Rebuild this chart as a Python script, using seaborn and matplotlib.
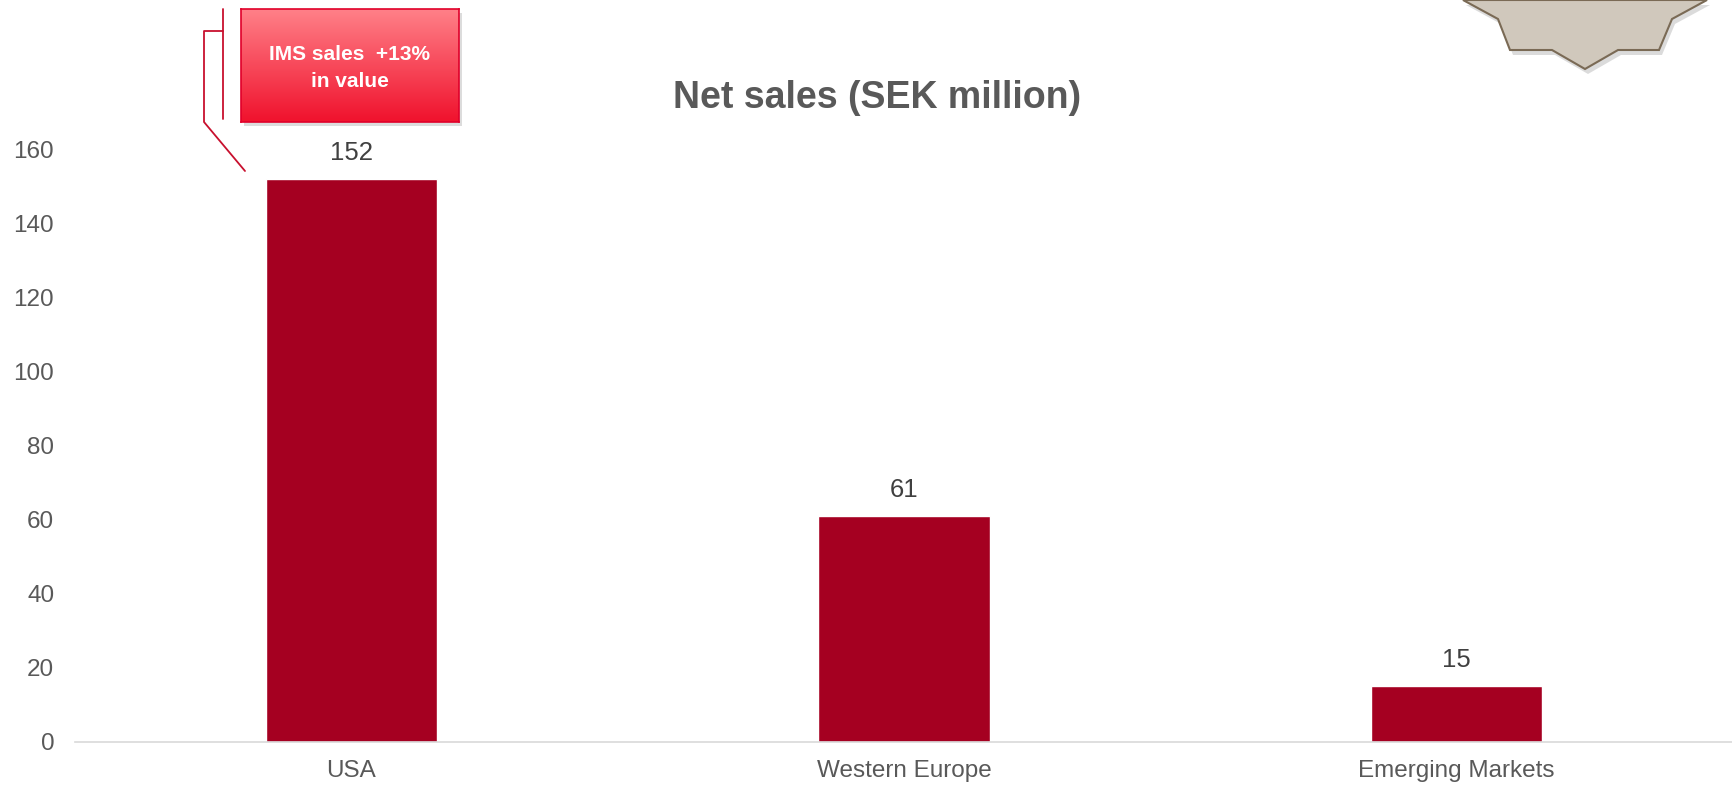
import numpy as np
import pandas as pd
import matplotlib
matplotlib.use("Agg")
import matplotlib.pyplot as plt
from matplotlib.patches import Polygon, Rectangle
from matplotlib.lines import Line2D
import seaborn as sns

# Net sales by region
regions = ["USA", "Western Europe", "Emerging Markets"]
net_sales = [152, 61, 15]
y_ticks = [0, 20, 40, 60, 80, 100, 120, 140, 160]
title = "Net sales (SEK million)"
callout_text = "IMS sales  +13%\nin value"

W, H = 1733, 787
sns.set_theme(style="white")
plt.rcParams["font.family"] = ["Liberation Sans", "DejaVu Sans"]

fig = plt.figure(figsize=(W / 100, H / 100), dpi=100)
fig.patch.set_facecolor("white")


def fx(px):
    return px / W


def fy(py):
    return 1 - py / H


ax = fig.add_axes([fx(75), fy(741.6), 1 - fx(75), fy(149.2) - fy(741.6)])
df = pd.DataFrame({"region": regions, "sales": net_sales})
sns.barplot(data=df, x="region", y="sales", color="#a50021", saturation=1,
            width=0.31, ax=ax)
ax.set_xlim(-0.5, 2.5)
ax.set_ylim(0, 160)
ax.set_yticks(y_ticks)
ax.set_xlabel("")
ax.set_ylabel("")
for s in ["top", "right", "left"]:
    ax.spines[s].set_visible(False)
ax.spines["bottom"].set_color("#d9d9d9")
ax.spines["bottom"].set_linewidth(1.2)
ax.tick_params(axis="both", length=0, labelsize=17.5, colors="#595959")
ax.tick_params(axis="x", pad=13)
ax.tick_params(axis="y", pad=15)
for c in ax.containers:
    ax.bar_label(c, labels=[str(v) for v in net_sales], padding=10,
                 fontsize=18.5, color="#404040")

fig.text(fx(877), fy(98), title, ha="center", va="center", fontsize=27,
         fontweight="bold", color="#595959")

# Callout box with vertical gradient and drop shadow
bx0, bx1, by0, by1 = 241, 459, 9, 122
shadow = Rectangle((fx(bx0 + 3), fy(by1 + 4)), fx(bx1 - bx0), fy(by0) - fy(by1),
                   transform=fig.transFigure, facecolor="#bbbbbb", alpha=0.5,
                   edgecolor="none", zorder=2)
fig.patches.append(shadow)
gax = fig.add_axes([fx(bx0), fy(by1), fx(bx1 - bx0), fy(by0) - fy(by1)], zorder=3)
top = np.array([255, 128, 136]) / 255
bot = np.array([240, 18, 45]) / 255
t = np.linspace(0, 1, 100)[:, None]
grad = (top[None, :] * (1 - t) + bot[None, :] * t)[:, None, :]
gax.imshow(grad, aspect="auto", extent=[0, 1, 0, 1])
gax.set_xticks([])
gax.set_yticks([])
for s in gax.spines.values():
    s.set_color("#e0002a")
    s.set_linewidth(1.2)
gax.text(0.5, 0.48, callout_text, ha="center", va="center", fontsize=15,
         fontweight="bold", color="white", linespacing=1.5,
         transform=gax.transAxes)

# Bracket connector
line_color = "#c8102e"
fig.lines.append(Line2D([fx(223), fx(223)], [fy(9), fy(119)],
                        transform=fig.transFigure, color=line_color, lw=1.3))
fig.lines.append(Line2D([fx(223), fx(204), fx(204), fx(245)],
                        [fy(31), fy(31), fy(122), fy(171)],
                        transform=fig.transFigure, color=line_color, lw=1.3))

# Decorative gear segment in the top-right corner
gear_px = [(1463, 0), (1498, 19), (1510, 50), (1552, 50), (1585, 69),
           (1618, 50), (1659, 50), (1672, 19), (1707, 0)]
gear_shadow = Polygon([(fx(x + 3), fy(y + 5)) for x, y in gear_px],
                      closed=True, transform=fig.transFigure,
                      facecolor="#999999", alpha=0.35, edgecolor="none", zorder=1)
gear = Polygon([(fx(x), fy(y)) for x, y in gear_px], closed=True,
               transform=fig.transFigure, facecolor="#d0c8bc",
               edgecolor="#7a6a55", lw=1.5, zorder=2)
fig.patches.extend([gear_shadow, gear])

fig.savefig("out.png", dpi=100, facecolor="white")
